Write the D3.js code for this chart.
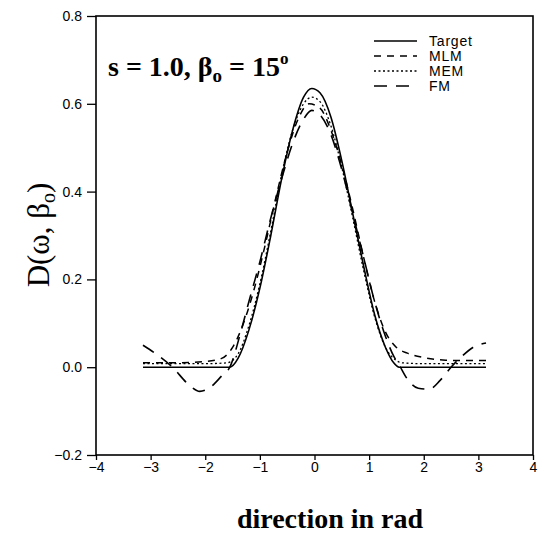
<!DOCTYPE html>
<html><head><meta charset="utf-8">
<script src="https://cdn.jsdelivr.net/npm/d3@7"></script>
<style>body{margin:0;background:#fff}svg{display:block}</style>
</head><body>
<svg id="c" width="541" height="540"></svg>
<script>
// ---- data ----
const xTicks = [-4, -3, -2, -1, 0, 1, 2, 3, 4];
const yTicks = [-0.2, 0.0, 0.2, 0.4, 0.6, 0.8];
const seriesNames = ["Target", "MLM", "MEM", "FM"];

const targetX = [-3.14, -2.5, -2.0, -1.55, -1.4, -1.2, -1.0, -0.8, -0.6, -0.4, -0.2, -0.05, 0.1, 0.3, 0.5, 0.7, 0.9, 1.1, 1.3, 1.45, 1.55, 2.0, 2.5, 3.14];
const targetY = [0, 0, 0, 0, 0.02, 0.085, 0.18, 0.30, 0.43, 0.54, 0.615, 0.635, 0.625, 0.57, 0.47, 0.35, 0.23, 0.12, 0.045, 0.01, 0, 0, 0, 0];

const mlmX = [-3.14, -2.6, -2.0, -1.7, -1.5, -1.3, -1.1, -0.9, -0.7, -0.5, -0.3, -0.1, 0.1, 0.3, 0.5, 0.7, 0.9, 1.1, 1.3, 1.5, 1.7, 2.0, 2.4, 2.8, 3.14];
const mlmY = [0.01, 0.01, 0.013, 0.02, 0.045, 0.10, 0.18, 0.28, 0.39, 0.49, 0.565, 0.60, 0.59, 0.54, 0.46, 0.36, 0.25, 0.15, 0.08, 0.045, 0.032, 0.022, 0.016, 0.015, 0.015];

const memX = [-3.14, -2.5, -2.0, -1.6, -1.4, -1.2, -1.0, -0.8, -0.6, -0.4, -0.2, -0.05, 0.1, 0.3, 0.5, 0.7, 0.9, 1.1, 1.3, 1.5, 1.6, 2.0, 2.5, 3.14];
const memY = [0.008, 0.008, 0.008, 0.01, 0.03, 0.095, 0.19, 0.31, 0.44, 0.54, 0.60, 0.615, 0.605, 0.55, 0.455, 0.34, 0.22, 0.115, 0.045, 0.015, 0.01, 0.008, 0.008, 0.008];

const fmX = [-3.14, -2.9, -2.6, -2.3, -2.1, -1.9, -1.7, -1.55, -1.35, -1.2, -1.0, -0.8, -0.6, -0.4, -0.2, -0.05, 0.1, 0.3, 0.5, 0.7, 0.9, 1.1, 1.3, 1.45, 1.55, 1.7, 1.9, 2.1, 2.3, 2.5, 2.7, 2.9, 3.14];
const fmY = [0.05, 0.03, 0.0, -0.04, -0.055, -0.045, -0.02, 0.0, 0.08, 0.15, 0.24, 0.34, 0.43, 0.51, 0.565, 0.585, 0.575, 0.53, 0.45, 0.35, 0.25, 0.15, 0.07, 0.025, 0.005, -0.027, -0.048, -0.05, -0.03, 0.0, 0.025, 0.045, 0.055];

// ---- drawing ----
const svg = d3.select("#c");
const x = d3.scaleLinear().domain([-4, 4]).range([96, 533]);
const y = d3.scaleLinear().domain([-0.2, 0.8]).range([455, 16]);

const tickFont = "'Liberation Sans', Arial, sans-serif";
const serif = "'Liberation Serif', 'Times New Roman', serif";

// frame
svg.append("rect").attr("x", x(-4)).attr("y", y(0.8))
  .attr("width", x(4) - x(-4)).attr("height", y(-0.2) - y(0.8))
  .attr("fill", "none").attr("stroke", "#000").attr("stroke-width", 1.6);

const xAxis = d3.axisBottom(x).tickValues(xTicks).tickSize(5).tickPadding(2)
  .tickFormat(d => d < 0 ? "\u2212" + Math.abs(d) : String(d));
const gx = svg.append("g").attr("transform", `translate(0,${y(-0.2)})`).call(xAxis);
gx.select(".domain").remove();
gx.selectAll("line").attr("stroke-width", 1.3);
gx.selectAll("text").attr("font-family", tickFont).attr("font-size", 14).attr("fill", "#000");

const yAxis = d3.axisLeft(y).tickValues(yTicks).tickSize(9).tickPadding(5)
  .tickFormat(d => (d < 0 ? "\u2212" : "") + Math.abs(d).toFixed(1));
const gy = svg.append("g").attr("transform", `translate(${x(-4)},0)`).call(yAxis);
gy.select(".domain").remove();
gy.selectAll("line").attr("stroke-width", 1.3);
gy.selectAll("text").attr("font-family", tickFont).attr("font-size", 14).attr("fill", "#000");

const line = d3.line().x(d => x(d[0])).y(d => y(d[1])).curve(d3.curveMonotoneX);
const styles = {
  Target: {dash: null, w: 1.6},
  MLM: {dash: "7,6", w: 1.5},
  MEM: {dash: "2,2.5", w: 1.3},
  FM: {dash: "13,9", w: 1.6}
};
const data = {
  Target: d3.zip(targetX, targetY),
  MLM: d3.zip(mlmX, mlmY),
  MEM: d3.zip(memX, memY),
  FM: d3.zip(fmX, fmY)
};
seriesNames.forEach(n => {
  svg.append("path").datum(data[n]).attr("d", line)
    .attr("fill", "none").attr("stroke", "#000")
    .attr("stroke-width", styles[n].w)
    .attr("stroke-dasharray", styles[n].dash);
});

// legend
const leg = svg.append("g");
seriesNames.forEach((n, i) => {
  const yy = 41 + i * 15;
  leg.append("line").attr("x1", 374).attr("x2", 417).attr("y1", yy).attr("y2", yy)
    .attr("stroke", "#000").attr("stroke-width", 1.3).attr("stroke-dasharray", styles[n].dash);
  leg.append("text").attr("x", 429).attr("y", yy + 5).text(n)
    .attr("font-family", tickFont).attr("font-size", 14).attr("letter-spacing", 0.8).attr("fill", "#000");
});

// annotation
const ann = svg.append("text").attr("x", 108).attr("y", 76)
  .attr("font-family", serif).attr("font-weight", "bold").attr("font-size", 28).attr("fill", "#000");
ann.append("tspan").text("s = 1.0, \u03B2");
ann.append("tspan").text("o").attr("font-size", 19).attr("dy", 6);
ann.append("tspan").text(" = 15").attr("dy", -6);
ann.append("tspan").text("o").attr("font-size", 17).attr("dy", -12);

// y label
const yl = svg.append("text").attr("transform", "translate(49,235) rotate(-90)")
  .attr("text-anchor", "middle").attr("font-family", serif).attr("font-size", 31).attr("fill", "#000");
yl.append("tspan").text("D(\u03C9, \u03B2");
yl.append("tspan").text("o").attr("font-size", 20).attr("dy", 6);
yl.append("tspan").text(")").attr("dy", -6);

// x label
svg.append("text").attr("x", 330).attr("y", 528).attr("text-anchor", "middle")
  .attr("font-family", serif).attr("font-weight", "bold").attr("font-size", 28).attr("fill", "#000")
  .text("direction in rad");
</script>
</body></html>
